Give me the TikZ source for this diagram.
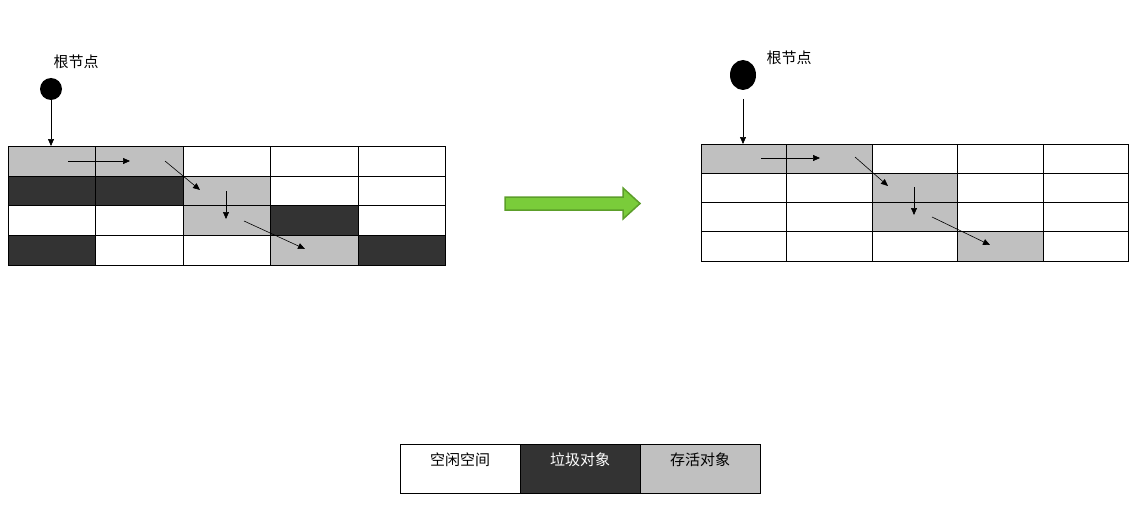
\documentclass[tikz,border=0pt]{standalone}
\usepackage{fontspec}
\newfontfamily\cjk{Noto Sans CJK SC}
\usetikzlibrary{arrows.meta}
\definecolor{gr}{HTML}{C0C0C0}
\definecolor{dk}{HTML}{333333}
\definecolor{grn}{HTML}{7ACC3A}
\definecolor{grnd}{HTML}{5C9E2A}
\tikzset{x=1pt,y=-1pt,
 arr/.style={-{Triangle[length=7pt,width=6pt]},line width=0.6pt},
 lbl/.style={font=\cjk\fontsize{15}{15}\selectfont,inner sep=0pt},
 cell/.style={draw,line width=0.8pt,minimum width=0pt,inner sep=0pt}}
\begin{document}
\begin{tikzpicture}
\useasboundingbox (0,0) rectangle (1145,508);
% left grid
\def\lcols{8,95,183,270,358,445}
\def\lrows{146,176,205,235,265}
\foreach \r/\ya/\yb/\cs in {0/146/176/{G,G,W,W,W},1/176/205/{D,D,G,W,W},2/205/235/{W,W,G,D,W},3/235/265/{D,W,W,G,D}}{
 \foreach \c/\xa/\xb [count=\i] in {0/8/95,1/95/183,2/183/270,3/270/358,4/358/445}{
  \foreach \k [count=\j] in \cs {\ifnum\j=\i\relax
   \if\k G\def\fc{gr}\fi \if\k D\def\fc{dk}\fi \if\k W\def\fc{white}\fi
   \fill[\fc] (\xa,\ya) rectangle (\xb,\yb);\fi}
  \draw[line width=0.8pt] (\xa,\ya) rectangle (\xb,\yb);
 }}
\fill (51,89) circle (11);
\node[lbl] (lroot) at (76,62) {根节点};
\coordinate (la0) at (51,100); \coordinate (la1) at (51,146);
\draw[arr] (la0) -- (la1);
\draw[arr] (68,161) -- (130,161);
\draw[arr] (165,161) -- (200,190);
\draw[arr] (226,191) -- (226,219);
\draw[arr] (244,221) -- (305,249);
% right grid
\foreach \r/\ya/\yb/\cs in {0/144/173/{G,G,W,W,W},1/173/202/{W,W,G,W,W},2/202/231/{W,W,G,W,W},3/231/261/{W,W,W,G,W}}{
 \foreach \c/\xa/\xb [count=\i] in {0/701/786,1/786/872,2/872/957,3/957/1043,4/1043/1128}{
  \foreach \k [count=\j] in \cs {\ifnum\j=\i\relax
   \if\k G\def\fc{gr}\fi \if\k W\def\fc{white}\fi
   \fill[\fc] (\xa,\ya) rectangle (\xb,\yb);\fi}
  \draw[line width=0.8pt] (\xa,\ya) rectangle (\xb,\yb);
 }}
\fill (743,75) ellipse (13 and 15);
\node[lbl] (rroot) at (789,58) {根节点};
\draw[arr] (743,99) -- (743,144);
\draw[arr] (761,158) -- (820,158);
\draw[arr] (855,157) -- (888,186);
\draw[arr] (914,187) -- (914,215);
\draw[arr] (932,217) -- (990,245);
% green arrow
\draw[fill=grn,draw=grnd,line width=1.5pt] (505,197) -- (623,197) -- (623,188) -- (640,203.5) -- (623,219) -- (623,210) -- (505,210) -- cycle;
% legend
\draw[fill=white,line width=0.8pt] (400,444) rectangle (520,493);
\draw[fill=dk,line width=0.8pt] (520,444) rectangle (640,493);
\draw[fill=gr,line width=0.8pt] (640,444) rectangle (760,493);
\node[lbl] (l1) at (460,460) {空闲空间};
\node[lbl,text=white] (l2) at (580,460) {垃圾对象};
\node[lbl] (l3) at (700,460) {存活对象};
\end{tikzpicture}
\end{document}
